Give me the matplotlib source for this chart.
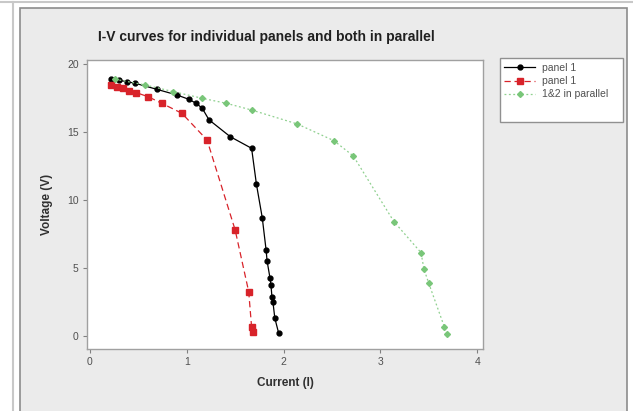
import matplotlib
matplotlib.use("Agg")
import matplotlib.pyplot as plt
from matplotlib.patches import Rectangle
from matplotlib.lines import Line2D

# I-V readings
panel_a_current = [0.22, 0.30, 0.38, 0.47, 0.69, 0.90, 1.02, 1.10, 1.16, 1.23,
                   1.45, 1.67, 1.72, 1.78, 1.82, 1.83, 1.86, 1.87, 1.88, 1.89,
                   1.91, 1.95]
panel_a_voltage = [18.9, 18.8, 18.7, 18.58, 18.14, 17.72, 17.41, 17.1, 16.75, 15.9,
                   14.66, 13.81, 11.17, 8.72, 6.33, 5.54, 4.29, 3.78, 2.92, 2.55,
                   1.34, 0.23]

panel_b_current = [0.22, 0.28, 0.34, 0.40, 0.48, 0.60, 0.74, 0.95, 1.21, 1.50,
                   1.64, 1.67, 1.68]
panel_b_voltage = [18.46, 18.3, 18.2, 18.05, 17.89, 17.60, 17.12, 16.38, 14.42,
                   7.82, 3.29, 0.70, 0.35]

parallel_current = [0.26, 0.57, 0.86, 1.16, 1.41, 1.67, 2.14, 2.52, 2.72, 3.14,
                    3.42, 3.45, 3.50, 3.66, 3.69]
parallel_voltage = [18.88, 18.46, 17.97, 17.48, 17.11, 16.62, 15.60, 14.37, 13.25,
                    8.43, 6.15, 4.95, 3.90, 0.72, 0.18]

series_labels = ["panel 1", "panel 1", "1&2 in parallel"]
chart_title = "I-V curves for individual panels and both in parallel"

W, H = 633, 411
fig = plt.figure(figsize=(W / 100, H / 100), dpi=100)
fig.patch.set_facecolor("white")

def px(x0, y0, x1, y1):
    ''' pixel box (top-left origin) -> figure fraction rect '''
    return [x0 / W, 1 - y1 / H, (x1 - x0) / W, (y1 - y0) / H]

# outer frame and grey panel (behind the axes)
fig.add_artist(Line2D([13 / W, 13 / W], [0, 1 - 2 / H], transform=fig.transFigure,
                      color="#c8c8c8", lw=1.5, zorder=-3))
fig.add_artist(Line2D([0, 1], [1 - 2 / H, 1 - 2 / H], transform=fig.transFigure,
                      color="#c8c8c8", lw=1.5, zorder=-3))
fig.add_artist(Rectangle((20 / W, -0.01), (627 - 20) / W, 1 - 8 / H + 0.01,
                         transform=fig.transFigure, facecolor="#ebebeb",
                         edgecolor="#8c8c8c", lw=1.2, zorder=-2))

ax = fig.add_axes(px(87, 60, 483, 349))
ax.set_facecolor("white")

h1, = ax.plot(panel_a_current, panel_a_voltage, color="black", ls="-", lw=0.9,
              marker="o", ms=3.5, label=series_labels[0])
h2, = ax.plot(panel_b_current, panel_b_voltage, color="#d8232a", ls=(0, (5, 3)),
              lw=0.9, marker="s", ms=4, label=series_labels[1])
h3, = ax.plot(parallel_current, parallel_voltage, color="#8fd08f", ls=(0, (1.5, 2)),
              lw=0.9, marker="D", ms=3, mfc="#79c679", mec="#79c679",
              label=series_labels[2])

ax.set_xlim(-0.03, 4.06)
ax.set_ylim(-0.92, 20.29)
ax.set_xticks([0, 1, 2, 3, 4])
ax.set_yticks([0, 5, 10, 15, 20])
for s in ax.spines.values():
    s.set_color("#a0a0a0")
    s.set_linewidth(1.0)
ax.tick_params(direction="out", length=3, width=0.8, color="#808080",
               labelsize=7.5, labelcolor="#505050", pad=3)

font = "Liberation Sans"
for lab in ax.get_xticklabels() + ax.get_yticklabels():
    lab.set_family(font)

ax.set_xlabel("Current (I)", fontsize=8.5, fontweight="bold", family=font,
              color="#303030", labelpad=7)
ax.set_ylabel("Voltage (V)", fontsize=8.5, fontweight="bold", family=font,
              color="#303030", labelpad=10)

fig.text(266 / W, 1 - 37 / H, chart_title, ha="center", va="center",
         fontsize=10, fontweight="bold", family=font, color="#202020")

# legend box on the right: frame drawn separately so it can be taller
lb = px(500, 58, 623, 122)
fig.add_artist(Rectangle((lb[0], lb[1]), lb[2], lb[3], transform=fig.transFigure,
                         facecolor="white", edgecolor="#909090", lw=1.0, zorder=1))
leg = fig.legend(handles=[h1, h2, h3], loc="upper left",
                 bbox_to_anchor=(lb[0] + 1 / W, lb[1] + lb[3] - 2 / H), frameon=False,
                 prop={"family": font, "size": 7.5},
                 handlelength=3.0, handletextpad=0.6, borderpad=0.3,
                 labelspacing=0.3, borderaxespad=0)
leg.set_zorder(2)
for t in leg.get_texts():
    t.set_color("#505050")

fig.savefig("out.png", dpi=100, facecolor=fig.get_facecolor())
